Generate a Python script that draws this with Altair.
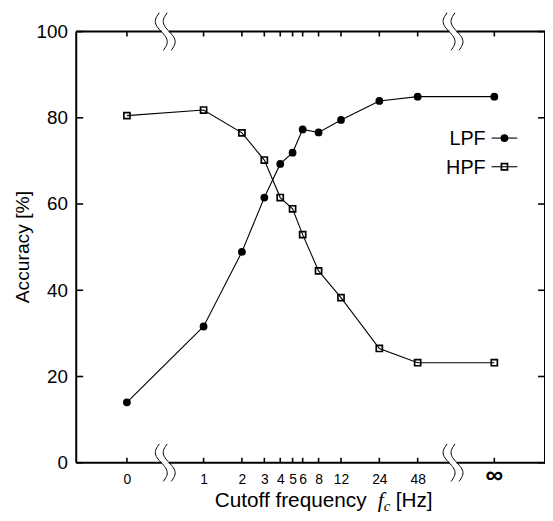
import altair as alt
import numpy as np
import pandas as pd

# ---- data ----
freq_labels = ["0", "1", "2", "3", "4", "5", "6", "8", "12", "24", "48", "∞"]
freq_pos = [0.25, 1, 2, 3, 4, 5, 6, 8, 12, 24, 48, 192]   # plotting position on log2 axis
lpf = [14.0, 31.6, 48.9, 61.5, 69.3, 71.9, 77.3, 76.6, 79.5, 83.9, 84.9, 84.9]
hpf = [80.5, 81.8, 76.5, 70.2, 61.5, 58.9, 52.9, 44.5, 38.3, 26.5, 23.2, 23.2]
y_ticks = [0, 20, 40, 60, 80, 100]
break_pos = [0.5, 91]
legend_names = ["LPF", "HPF"]

# ---- layout ----
W, H = 474, 436
XDOM = [0.1, 480]
YDOM = [0, 100]
PPD = W / np.log2(XDOM[1] / XDOM[0])   # pixels per doubling
PPU = H / (YDOM[1] - YDOM[0])          # pixels per y unit
FONT = "Liberation Sans"
SERIF = "Liberation Serif"

xs = alt.Scale(type="log", base=2, domain=XDOM, nice=False)
ys = alt.Scale(domain=YDOM, nice=False, zero=False)

label_expr = "datum.value > 100 ? '' : " + str(freq_labels) + "[indexof(" + str(freq_pos) + ", datum.value)]"

x_enc = alt.X("pos:Q", scale=xs,
              axis=alt.Axis(values=freq_pos, labelExpr=label_expr, title=None,
                            tickSize=0, domain=False, grid=False, labelFontSize=14,
                            labelPadding=10, labelFont=FONT, labelColor="black",
                            labelFlush=False, labelOverlap=False))
y_enc = alt.Y("acc:Q", scale=ys,
              axis=alt.Axis(values=y_ticks, title=None, tickSize=0, domain=False,
                            grid=False, labelFontSize=19, labelPadding=9, labelFont=FONT,
                            labelColor="black"))

lpf_df = pd.DataFrame({"pos": freq_pos, "acc": lpf})
hpf_df = pd.DataFrame({"pos": freq_pos, "acc": hpf})

lpf_line = alt.Chart(lpf_df).mark_line(color="black", strokeWidth=1.1).encode(x=x_enc, y=y_enc)
lpf_pts = alt.Chart(lpf_df).mark_circle(color="black", size=62, opacity=1).encode(x=x_enc, y=y_enc)
hpf_line = alt.Chart(hpf_df).mark_line(color="black", strokeWidth=1.1).encode(x=x_enc, y=y_enc)
hpf_pts = alt.Chart(hpf_df).mark_point(shape="square", filled=False, color="black", size=38,
                                        strokeWidth=1.7, opacity=1).encode(x=x_enc, y=y_enc)

# frame edges (top/bottom split at the axis breaks)
gap = 3.6
xcuts = [XDOM[0]]
for c in break_pos:
    xcuts += [c * 2 ** (-gap / PPD), c * 2 ** (gap / PPD)]
xcuts.append(XDOM[1])
edge = {"pos": [XDOM[0], XDOM[1]], "pos2": [XDOM[0], XDOM[1]],
        "acc": [YDOM[0], YDOM[0]], "acc2": [YDOM[1], YDOM[1]]}
for y0 in YDOM:
    for j in range(0, len(xcuts), 2):
        edge["pos"].append(xcuts[j]); edge["pos2"].append(xcuts[j + 1])
        edge["acc"].append(y0); edge["acc2"].append(y0)
edge_df = pd.DataFrame(edge)
frame = alt.Chart(edge_df).mark_rule(color="#000000", strokeWidth=2).encode(
    x=x_enc, x2="pos2:Q", y=y_enc, y2="acc2:Q")

# inward ticks
tk = {"pos": [], "pos2": [], "acc": [], "acc2": []}
for p in freq_pos:
    for y0, d in ((YDOM[0], 5 / PPU), (YDOM[1], -5 / PPU)):
        tk["pos"].append(p); tk["pos2"].append(p)
        tk["acc"].append(y0); tk["acc2"].append(y0 + d)
for v in y_ticks:
    for x0, f in ((XDOM[0], 2 ** (7 / PPD)), (XDOM[1], 2 ** (-7 / PPD))):
        tk["pos"].append(x0); tk["pos2"].append(x0 * f)
        tk["acc"].append(v); tk["acc2"].append(v)
tk_df = pd.DataFrame(tk)
ticks = alt.Chart(tk_df).mark_rule(color="#000000", strokeWidth=1.6).encode(
    x=x_enc, x2="pos2:Q", y=y_enc, y2="acc2:Q")

# axis-break symbols (decoration)
rows = []
t = np.linspace(-1, 1, 31)
cid = 0
for c in break_pos:
    for y0 in YDOM:
        for off in (-4.0, 4.0):
            dx = off + 5.0 * np.sin(np.pi * t) + 2.0 * t
            dy = 19.0 * t
            for k in range(len(t)):
                rows.append({"pos": c * 2 ** (dx[k] / PPD), "acc": y0 - dy[k] / PPU,
                             "id": cid, "k": k})
            cid += 1
brk_df = pd.DataFrame(rows)
brk_lines = alt.Chart(brk_df).mark_line(color="black", strokeWidth=1).encode(
    x=x_enc, y=y_enc, detail="id:N", order="k:Q")

# infinity label
inf_df = pd.DataFrame({"pos": [freq_pos[-1]], "lab": [freq_labels[-1]]})
inf_lab = alt.Chart(inf_df).mark_text(font=FONT, fontSize=25, fontWeight="bold", baseline="middle",
                                      color="black").encode(x=x_enc, y=alt.value(H + 12), text="lab:N")

# legend (inside plot)
leg_layers = []
for i, name in enumerate(legend_names):
    ym = 107.7 + i * 29
    ldf = pd.DataFrame({"t": [name]})
    leg_layers.append(alt.Chart(ldf).mark_text(font=FONT, fontSize=20, align="right",
                                               baseline="middle", color="black").encode(
        text="t:N", x=alt.value(414), y=alt.value(ym + 1)))
    leg_layers.append(alt.Chart(ldf).mark_rule(color="black", strokeWidth=1.1).encode(
        x=alt.value(420), x2=alt.value(446), y=alt.value(ym)))
    if name == "LPF":
        leg_layers.append(alt.Chart(ldf).mark_circle(color="black", size=62, opacity=1).encode(
            x=alt.value(433), y=alt.value(ym)))
    else:
        leg_layers.append(alt.Chart(ldf).mark_point(shape="square", filled=False, color="black",
                                                    size=38, strokeWidth=1.7, opacity=1).encode(
            x=alt.value(433), y=alt.value(ym)))

# axis titles as text
tdf = pd.DataFrame({"a": ["Cutoff frequency"], "b": ["f"], "c": ["c"], "d": ["[Hz]"],
                    "e": ["Accuracy [%]"]})
tb = 481
title_layers = [
    alt.Chart(tdf).mark_text(font=FONT, fontSize=21, align="left", baseline="alphabetic",
                             color="black").encode(text="a:N", x=alt.value(140), y=alt.value(tb)),
    alt.Chart(tdf).mark_text(font=SERIF, fontSize=22, fontStyle="italic", align="left",
                             baseline="alphabetic", color="black").encode(
        text="b:N", x=alt.value(305), y=alt.value(tb)),
    alt.Chart(tdf).mark_text(font=SERIF, fontSize=15, fontStyle="italic", align="left",
                             baseline="alphabetic", color="black").encode(
        text="c:N", x=alt.value(311), y=alt.value(tb + 4)),
    alt.Chart(tdf).mark_text(font=FONT, fontSize=21, align="left", baseline="alphabetic",
                             color="black").encode(text="d:N", x=alt.value(323), y=alt.value(tb)),
    alt.Chart(tdf).mark_text(font=FONT, fontSize=19.5, align="center", baseline="alphabetic",
                             angle=270, color="black").encode(
        text="e:N", x=alt.value(-48), y=alt.value(218)),
]

chart = alt.layer(
    lpf_line, hpf_line, lpf_pts, hpf_pts,
    frame, ticks, brk_lines, inf_lab,
    *leg_layers, *title_layers,
).properties(
    width=W, height=H,
    background="white",
    autosize=alt.AutoSizeParams(type="none"),
    padding={"left": 69, "top": 21, "right": 0, "bottom": 48},
).configure_view(stroke=None)

chart.save("out.html", embed_options={"renderer": "svg", "actions": False})
